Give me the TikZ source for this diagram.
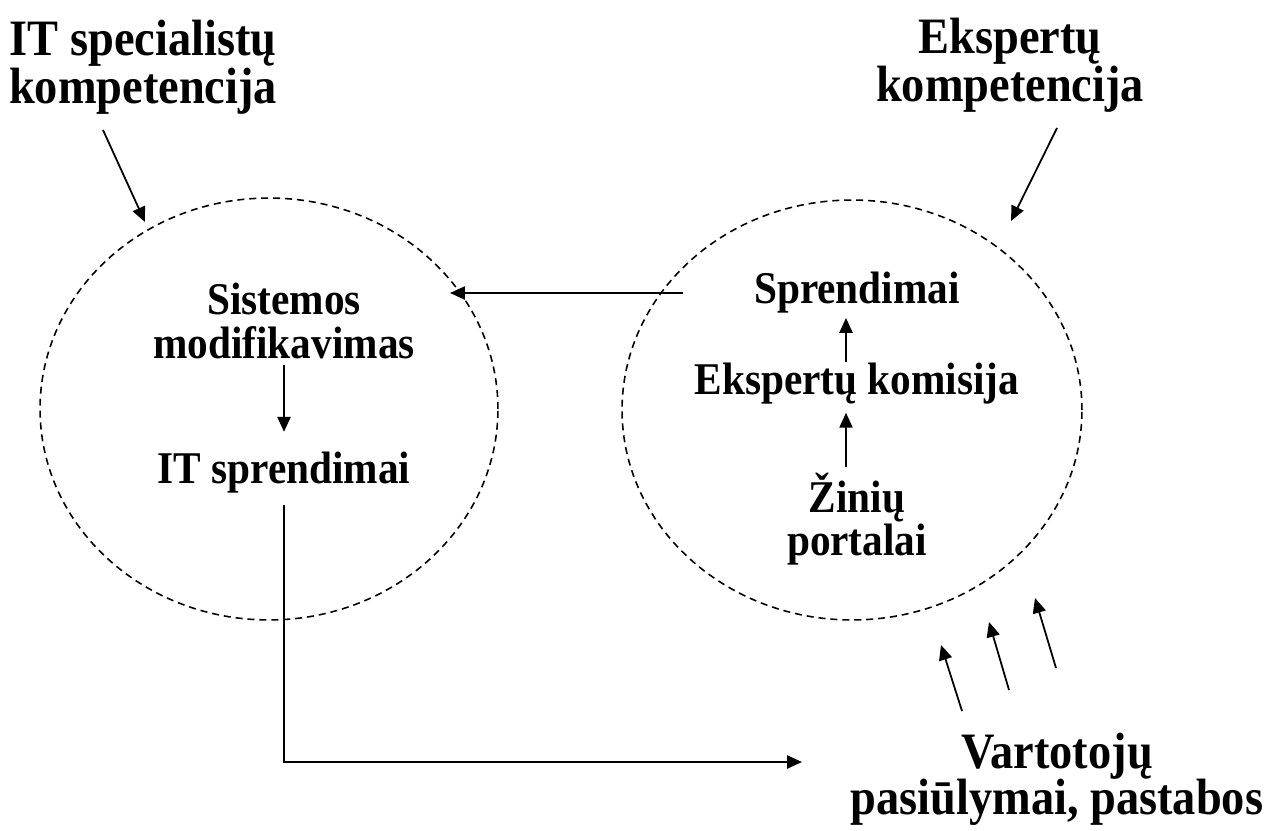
\documentclass[tikz,border=0pt]{standalone}
\usepackage{fontspec}
\usepackage{graphicx}
\setmainfont{Liberation Serif}
\usetikzlibrary{arrows.meta,shapes.geometric}
% slightly tall lettering
\newcommand\tall[1]{\scalebox{1}[1.1]{#1}}
% two centred lines, baseline on the first one, fixed line distance
\newcommand\twolines[2]{\tall{\vtop{\lineskiplimit=-\maxdimen\lineskip=0pt
  \halign{\hfil##\hfil\cr#1\cr#2\cr}}}}
\begin{document}
\begin{tikzpicture}[x=0.02cm,y=-0.02cm,
  arr/.style={line width=1pt,-{Triangle[length=8.5pt,width=7.5pt]}},
  zone/.style={ellipse,draw,dash pattern=on 4pt off 2.8pt,line width=0.9pt,inner sep=0pt},
  big/.style={font=\bfseries\fontsize{26.4}{24.7}\selectfont,inner sep=0pt,anchor=base},
  small/.style={font=\bfseries\fontsize{23.5}{23.2}\selectfont,inner sep=0pt,anchor=base},
]
\useasboundingbox (0,0) rectangle (1267,831);

% competence areas
\node[zone,minimum width=9.16cm,minimum height=8.44cm] (ellL) at (269,409) {};
\node[zone,minimum width=9.2cm,minimum height=8.4cm] (ellR) at (852,410) {};

% headings
\node[big] (itk) at (143,56) {\twolines{IT specialistų}{kompetencija}};
\node[big] (ek) at (1010,54) {\twolines{Ekspertų}{kompetencija}};
\node[big,font=\bfseries\fontsize{26.4}{24.2}\selectfont] (vart) at (1057,768)
  {\twolines{Vartotojų}{pasiūlymai, pastabos}};

% inner steps
\node[small] (sist) at (284,314) {\twolines{Sistemos}{modifikavimas}};
\node[small] (itspr) at (284,483) {\tall{IT sprendimai}};
\node[small] (spr) at (857,303) {\tall{Sprendimai}};
\node[small] (kom) at (857,394) {\tall{Ekspertų komisija}};
\node[small,font=\bfseries\fontsize{23.5}{22.7}\selectfont] (zin) at (857,512)
  {\twolines{Žinių}{portalai}};

% arrow columns and free ends
\coordinate (axL) at (284,0);
\coordinate (axR) at (846,0);
\coordinate (itkFrom) at (103,130);  \coordinate (itkTo) at (145,222);
\coordinate (ekFrom) at (1057,128);  \coordinate (ekTo) at (1011,221);
\coordinate (hFrom) at (683,293);    \coordinate (hTo) at (450,293);
\coordinate (vIn) at (802,762);
\coordinate (u1a) at (962,711); \coordinate (u1b) at (941,645);
\coordinate (u2a) at (1009,690); \coordinate (u2b) at (989,622);
\coordinate (u3a) at (1056,668); \coordinate (u3b) at (1035,598);

% connectors
\draw[arr] (itkFrom) -- (itkTo);
\draw[arr] (ekFrom) -- (ekTo);
\draw[arr] (hFrom) -- (hTo);
\draw[arr] (sist.south -| axL) ++(0,5) -- ([yshift=11pt]itspr.north -| axL);
\draw[arr,shorten >=2.8pt] (kom.north -| axR) -- (spr.south -| axR);
\draw[arr,shorten <=2.8pt,shorten >=5pt] (zin.north -| axR) -- (kom.south -| axR);
\draw[arr,shorten <=7pt] (itspr.south -| axL) |- (vIn);
\draw[arr] (u1a) -- (u1b);
\draw[arr] (u2a) -- (u2b);
\draw[arr] (u3a) -- (u3b);
\end{tikzpicture}
\end{document}
